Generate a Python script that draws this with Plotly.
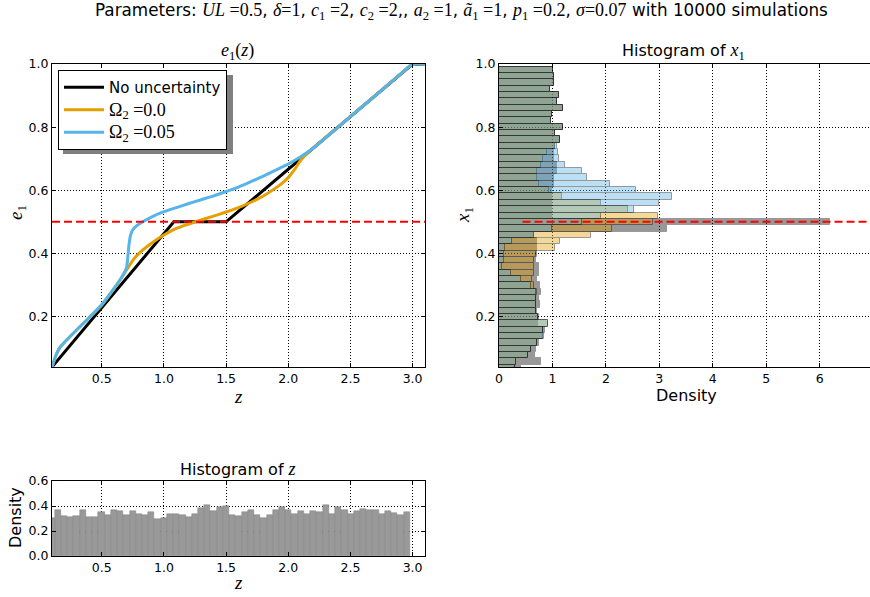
import plotly.graph_objects as go

W, H = 870, 597
SANS = "DejaVu Sans"
SERIF = "Liberation Serif"

# ---- e1(z) curves ----
UL = 0.5
Z_NO_UNC = [0.10, 1.08, 1.50, 3.00, 3.10]
E_NO_UNC = [0.04, 0.50, 0.50, 1.00, 1.00]

Z_OMEGA0 = [0.10, 0.13, 0.16, 0.20, 0.30, 0.40, 0.50, 0.60, 0.68, 0.75, 0.80, 0.90, 1.00,
            1.10, 1.20, 1.26, 1.40, 1.50, 1.60, 1.70, 1.80, 1.88, 1.95, 2.00, 2.05, 2.10,
            2.15, 2.50, 2.90, 3.00, 3.10]
E_OMEGA0 = [0.040, 0.075, 0.100, 0.118, 0.158, 0.197, 0.236, 0.288, 0.335, 0.378, 0.400,
            0.432, 0.458, 0.479, 0.493, 0.501, 0.518, 0.531, 0.545, 0.562, 0.582, 0.602,
            0.622, 0.640, 0.665, 0.695, 0.716, 0.833, 0.967, 1.000, 1.000]

Z_OMEGA005 = [0.10, 0.13, 0.16, 0.20, 0.30, 0.40, 0.50, 0.60, 0.65, 0.68, 0.70, 0.71, 0.72,
              0.73, 0.75, 0.78, 0.83, 0.90, 1.00, 1.10, 1.20, 1.30, 1.40, 1.50, 1.60, 1.70,
              1.80, 1.90, 2.00, 2.10, 2.20, 2.50, 2.90, 3.00, 3.10]
E_OMEGA005 = [0.040, 0.075, 0.100, 0.118, 0.158, 0.197, 0.238, 0.290, 0.318, 0.338, 0.355,
              0.390, 0.430, 0.455, 0.475, 0.487, 0.500, 0.515, 0.532, 0.545, 0.558, 0.570,
              0.582, 0.596, 0.610, 0.627, 0.645, 0.664, 0.683, 0.706, 0.733, 0.833, 0.967,
              1.000, 1.000]

# ---- histogram of x1 (bins listed from low x1 to high x1) ----
X1_BIN_START = 0.027
X1_BIN_WIDTH = 0.0201
DENS_NO_UNC = [0.42, 0.79, 0.67, 0.70, 0.74, 0.83, 0.86, 0.73, 0.75, 0.72, 0.77, 0.75, 0.78,
               0.76, 0.72, 0.75, 0.74, 0.70, 0.71, 0.72, 0.72, 0.66, 3.15, 6.20, 1.00, 1.00,
               1.00, 1.00, 1.00, 1.02, 1.03, 1.09, 1.08, 1.02, 1.03, 1.05, 1.14, 1.05, 1.19,
               0.98, 1.00, 1.19, 1.08, 1.12, 0.95, 1.03, 1.03, 1.01]
DENS_OMEGA0 = [0.29, 0.32, 0.54, 0.60, 0.72, 0.83, 0.83, 0.92, 0.73, 0.70, 0.70, 0.70, 0.72,
               0.65, 0.62, 0.65, 0.65, 0.65, 0.69, 1.04, 1.14, 1.73, 2.12, 2.88, 2.97, 2.42,
               1.90, 1.18, 0.93, 0.74, 0.72, 0.72, 0.78, 0.83, 0.90, 1.05, 1.14, 1.05, 1.19,
               0.98, 1.00, 1.19, 1.08, 1.12, 0.95, 1.03, 1.03, 1.01]
DENS_OMEGA005 = [0.29, 0.32, 0.54, 0.60, 0.72, 0.84, 0.83, 0.92, 0.73, 0.70, 0.70, 0.70, 0.70,
                 0.60, 0.42, 0.23, 0.05, 0.09, 0.09, 0.11, 0.25, 0.66, 1.00, 1.55, 1.90, 2.52,
                 2.99, 3.24, 2.57, 2.07, 1.65, 1.55, 1.23, 1.12, 1.10, 1.08, 1.14, 1.05, 1.19,
                 0.98, 1.00, 1.19, 1.08, 1.12, 0.95, 1.03, 1.03, 1.01]

# ---- histogram of z ----
Z_BIN_START = 0.072
Z_BIN_WIDTH = 0.0501
DENS_Z = [0.305, 0.367, 0.319, 0.311, 0.321, 0.370, 0.311, 0.313, 0.351, 0.327,
          0.370, 0.359, 0.330, 0.364, 0.337, 0.332, 0.351, 0.300, 0.305, 0.335,
          0.337, 0.332, 0.316, 0.337, 0.388, 0.407, 0.364, 0.394, 0.400, 0.327,
          0.319, 0.351, 0.367, 0.330, 0.303, 0.327, 0.367, 0.391, 0.372, 0.335,
          0.364, 0.335, 0.359, 0.351, 0.407, 0.335, 0.396, 0.370, 0.335, 0.359,
          0.378, 0.372, 0.372, 0.335, 0.359, 0.346, 0.332, 0.354]

C_BLACK = "#000000"
C_ORANGE = "#E69F00"
C_BLUE = "#56B4E9"
C_RED = "#FF0000"


def px_x(p):
    return p / W


def px_y(p):
    return 1 - p / H


def math(s, size=None):
    style = f"font-family:{SERIF}"
    if size:
        style += f";font-size:{size}px"
    return f'<span style="{style}">{s}</span>'


fig = go.Figure()

# e1(z) panel
fig.add_trace(go.Scatter(x=Z_NO_UNC, y=E_NO_UNC, mode="lines", name="No uncertainty",
                         line=dict(color=C_BLACK, width=3), xaxis="x", yaxis="y"))
fig.add_trace(go.Scatter(x=Z_OMEGA0, y=E_OMEGA0, mode="lines",
                         name=math("Ω<sub>2</sub> =0.0", 18),
                         line=dict(color=C_ORANGE, width=3, shape="spline", smoothing=0.6),
                         xaxis="x", yaxis="y"))
fig.add_trace(go.Scatter(x=Z_OMEGA005, y=E_OMEGA005, mode="lines",
                         name=math("Ω<sub>2</sub> =0.05", 18),
                         line=dict(color=C_BLUE, width=3, shape="spline", smoothing=0.6),
                         xaxis="x", yaxis="y"))
fig.add_trace(go.Scatter(x=[0.1, 3.1], y=[UL, UL], mode="lines", showlegend=False,
                         line=dict(color=C_RED, width=2, dash="8px,4px"), xaxis="x", yaxis="y"))

# histogram of x1
centers = [X1_BIN_START + X1_BIN_WIDTH * (i + 0.5) for i in range(len(DENS_NO_UNC))]
for dens, col in [(DENS_NO_UNC, C_BLACK), (DENS_OMEGA0, C_ORANGE), (DENS_OMEGA005, C_BLUE)]:
    fig.add_trace(go.Bar(x=dens, y=centers, orientation="h", width=X1_BIN_WIDTH, base=0,
                         marker=dict(color=col, line=dict(color="black", width=1)),
                         opacity=0.4, showlegend=False, xaxis="x2", yaxis="y2"))
fig.add_trace(go.Scatter(x=[0.44, 7.0], y=[UL, UL], mode="lines", showlegend=False,
                         line=dict(color=C_RED, width=2, dash="8px,4px"), xaxis="x2", yaxis="y2"))

# histogram of z
zc = [Z_BIN_START + Z_BIN_WIDTH * (i + 0.5) for i in range(len(DENS_Z))]
fig.add_trace(go.Bar(x=zc, y=DENS_Z, width=Z_BIN_WIDTH,
                     marker=dict(color="#999999", line=dict(color="#808080", width=0.5)),
                     showlegend=False, xaxis="x3", yaxis="y3"))

tickfont = dict(family=SANS, size=12.5, color="black")
common = dict(showline=True, linecolor="black", linewidth=1, ticks="inside", ticklen=4,
              tickcolor="black", showgrid=True, gridcolor="black", gridwidth=1,
              griddash="1px,2px", zeroline=False, tickfont=tickfont, automargin=False)

top_dom = [px_y(367), px_y(64)]
left_dom = [px_x(52), px_x(425)]

fig.update_layout(
    width=W, height=H,
    margin=dict(l=0, r=0, t=0, b=0),
    paper_bgcolor="white", plot_bgcolor="white",
    barmode="overlay", bargap=0,
    font=dict(family=SANS, color="black"),
    xaxis=dict(domain=left_dom, range=[0.1, 3.1], tickvals=[0.5, 1.0, 1.5, 2.0, 2.5, 3.0],
               tickformat=".1f", mirror="ticks", anchor="y", **common),
    yaxis=dict(domain=top_dom, range=[0.04, 1.0], tickvals=[0.2, 0.4, 0.6, 0.8, 1.0],
               tickformat=".1f", mirror="ticks", anchor="x", **common),
    xaxis2=dict(domain=[px_x(499), 1.0], range=[0, 370 / 53.3], tickvals=[0, 1, 2, 3, 4, 5, 6],
                mirror="ticks", anchor="y2", **common),
    yaxis2=dict(domain=top_dom, range=[0.04, 1.0], tickvals=[0.2, 0.4, 0.6, 0.8, 1.0],
                tickformat=".1f", mirror=False, anchor="x2", **common),
    xaxis3=dict(domain=left_dom, range=[0.1, 3.1], tickvals=[0.5, 1.0, 1.5, 2.0, 2.5, 3.0],
                tickformat=".1f", mirror="ticks", anchor="y3", **common),
    yaxis3=dict(domain=[px_y(556), px_y(481)], range=[0, 0.6], tickvals=[0, 0.2, 0.4, 0.6],
                tickformat=".1f", mirror="ticks", anchor="x3", **common),
    legend=dict(x=px_x(58), y=px_y(70), xanchor="left", yanchor="top", bgcolor="white",
                bordercolor="black", borderwidth=1, font=dict(family=SANS, size=15, color="black"),
                itemwidth=40, tracegroupgap=0),
)

# legend drop shadow
fig.add_shape(type="rect", xref="paper", yref="paper",
              x0=px_x(63), x1=px_x(233), y0=px_y(154), y1=px_y(75),
              fillcolor="#7f7f7f", line=dict(width=0), layer="above")

ann = []


def text(x, y, s, size=16, angle=0):
    ann.append(dict(x=px_x(x), y=px_y(y), xref="paper", yref="paper", text=s, showarrow=False,
                    xanchor="center", yanchor="middle", textangle=angle,
                    font=dict(family=SANS, size=size, color="black")))


m = 18
title = ("Parameters: " + math("<i>UL</i> =0.5", m) + ", " + math("<i>δ</i>=1", m) + ", "
         + math("<i>c</i><sub>1</sub> =2", m) + ", " + math("<i>c</i><sub>2</sub> =2", m) + ",, "
         + math("<i>a</i><sub>2</sub> =1", m) + ", " + math("<i>ã</i><sub>1</sub> =1", m) + ", "
         + math("<i>p</i><sub>1</sub> =0.2", m) + ", " + math("<i>σ</i>=0.07", m)
         + " with 10000 simulations")
text(461, 12, title, size=16.8)
text(237, 52, math("<i>e</i><sub>1</sub>(<i>z</i>)", 18), size=16)
text(683, 52, "Histogram of " + math("<i>x</i><sub>1</sub>", 18), size=16)
text(238, 469, "Histogram of " + math("<i>z</i>", 18), size=16)
text(238, 396, math("<i>z</i>", 19), size=17)
text(17, 213, math("<i>e</i><sub>1</sub>", 19), size=17, angle=-90)
text(686, 395, "Density", size=16)
text(464, 215, math("<i>x</i><sub>1</sub>", 19), size=17, angle=-90)
text(238, 582, math("<i>z</i>", 19), size=17)
text(15, 518, "Density", size=16, angle=-90)
fig.update_layout(annotations=ann)

fig.write_html("out.html")
